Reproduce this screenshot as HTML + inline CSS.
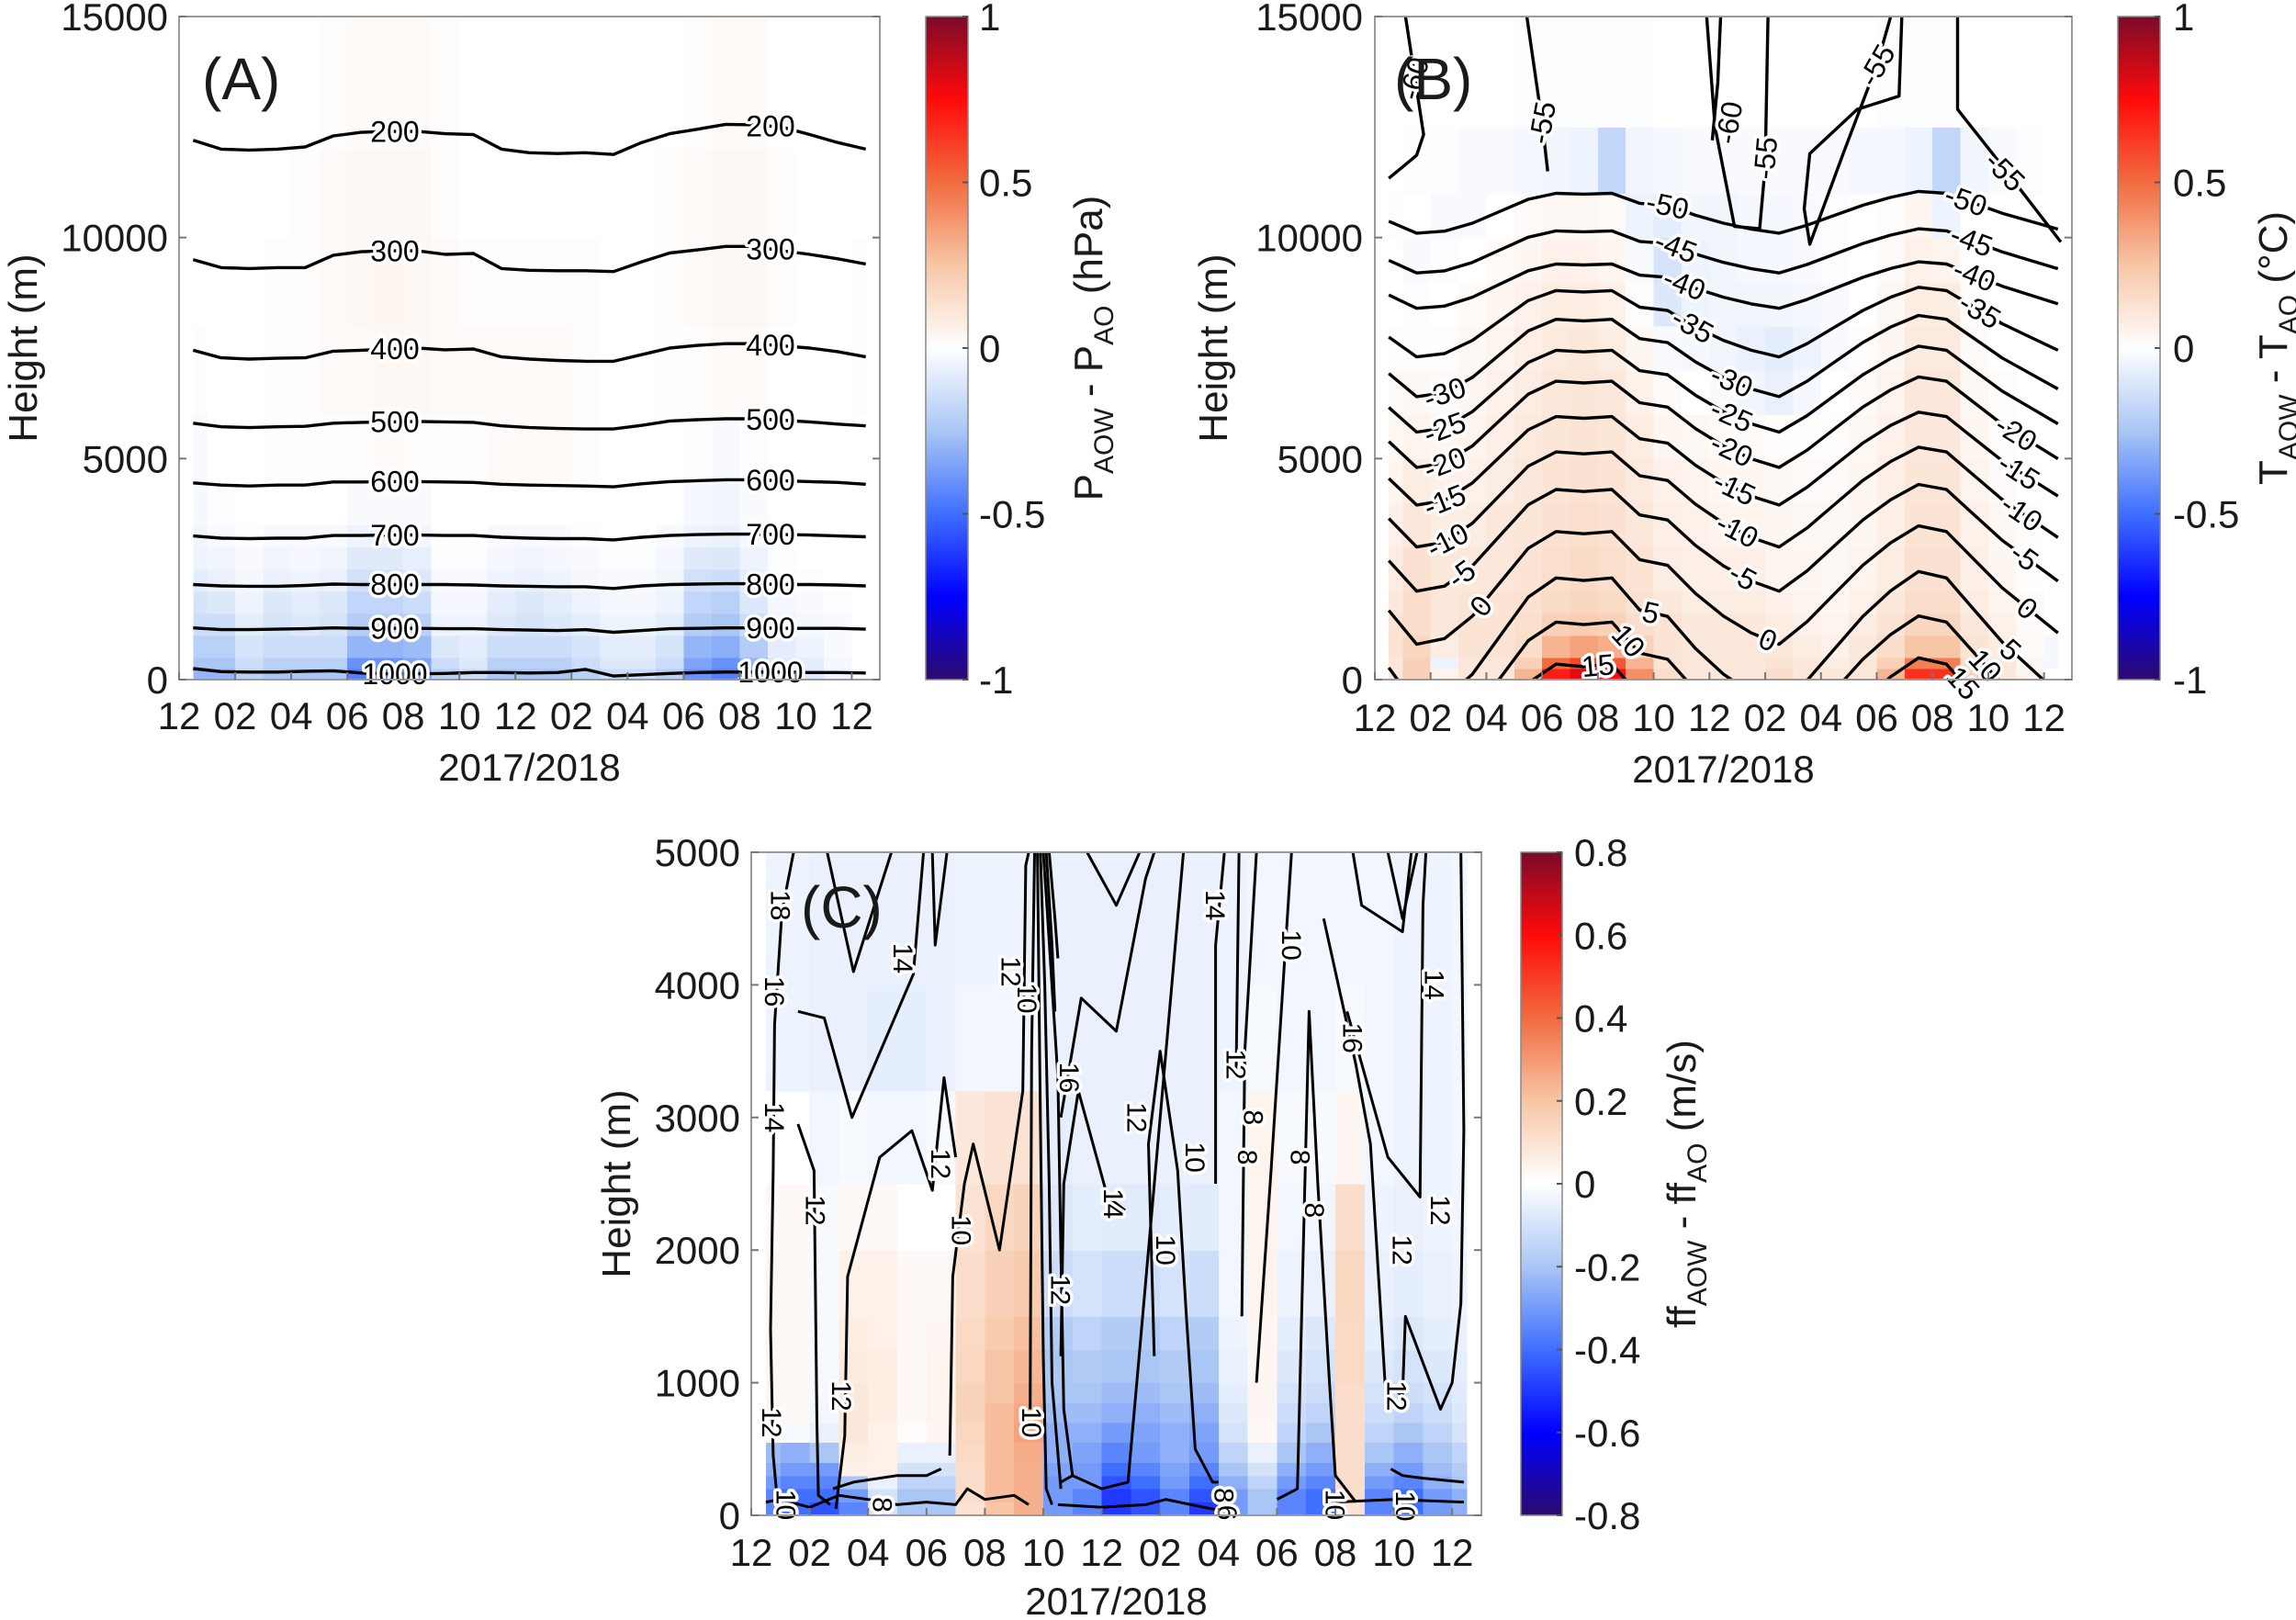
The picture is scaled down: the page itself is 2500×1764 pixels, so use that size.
<!DOCTYPE html>
<html><head><meta charset="utf-8"><title>AOW vs AO differences</title>
<style>
html,body{margin:0;padding:0;background:#fff;}
svg{display:block;font-family:"Liberation Sans",Arial,sans-serif;}
</style></head>
<body>
<svg id="fig" width="2500" height="1764" viewBox="0 0 2500 1764" xmlns="http://www.w3.org/2000/svg">
<defs>
<linearGradient id="cbgrad" x1="0" y1="1" x2="0" y2="0">
<stop offset="0" stop-color="#2c0b6e"/><stop offset="0.125" stop-color="#0000ff"/><stop offset="0.25" stop-color="#3f6fff"/><stop offset="0.375" stop-color="#a9c6f5"/><stop offset="0.5" stop-color="#ffffff"/><stop offset="0.625" stop-color="#f7c6a6"/><stop offset="0.75" stop-color="#f26b3f"/><stop offset="0.875" stop-color="#ff0a0a"/><stop offset="1" stop-color="#7b0a2a"/>
</linearGradient>
</defs>
</svg>
<script>
// ---------- shared tick labels ----------
const xTickMonths = [0,2,4,6,8,10,12,14,16,18,20,22,24];
const xTickLabels = ['12','02','04','06','08','10','12','02','04','06','08','10','12'];
const yTicksAB = [0,5000,10000,15000];
const yTicksC = [0,1000,2000,3000,4000,5000];
const cbTicksAB = [1,0.5,0,-0.5,-1];
const cbTickLabelsAB = ['1','0.5','0','-0.5','-1'];
const cbTicksC = [0.8,0.6,0.4,0.2,0,-0.2,-0.4,-0.6,-0.8];
const cbTickLabelsC = ['0.8','0.6','0.4','0.2','0','-0.2','-0.4','-0.6','-0.8'];

// ---------- Panel A data ----------
const aRowEdges = [0,250,500,1000,1500,2000,2500,3000,3500,4500,6000,8000,10000,12000,15000];
const aValues = [
[-0.3,-0.3,-0.2,-0.25,-0.25,-0.25,-0.45,-0.45,-0.4,-0.2,-0.15,-0.25,-0.25,-0.25,-0.2,-0.15,-0.15,-0.2,-0.4,-0.45,-0.35,-0.15,-0.1,-0.05,0],
[-0.25,-0.25,-0.15,-0.2,-0.2,-0.2,-0.4,-0.4,-0.35,-0.15,-0.1,-0.2,-0.2,-0.2,-0.15,-0.1,-0.1,-0.15,-0.35,-0.4,-0.3,-0.1,-0.08,-0.03,0],
[-0.2,-0.2,-0.12,-0.15,-0.15,-0.15,-0.3,-0.3,-0.28,-0.1,-0.08,-0.15,-0.15,-0.15,-0.12,-0.08,-0.08,-0.12,-0.3,-0.32,-0.22,-0.08,-0.05,-0.02,0],
[-0.15,-0.15,-0.08,-0.12,-0.1,-0.12,-0.22,-0.22,-0.2,-0.05,-0.05,-0.1,-0.12,-0.1,-0.08,-0.05,-0.05,-0.08,-0.22,-0.25,-0.15,-0.05,-0.03,-0.02,0],
[-0.12,-0.1,-0.05,-0.1,-0.08,-0.1,-0.18,-0.18,-0.15,-0.03,-0.03,-0.08,-0.1,-0.08,-0.05,-0.03,-0.03,-0.05,-0.18,-0.2,-0.1,-0.03,-0.02,-0.01,0],
[-0.08,-0.06,-0.03,-0.06,-0.05,-0.06,-0.13,-0.13,-0.1,-0.02,-0.02,-0.05,-0.06,-0.05,-0.03,-0.02,-0.02,-0.04,-0.13,-0.15,-0.07,-0.02,-0.01,0,0],
[-0.05,-0.04,-0.02,-0.04,-0.03,-0.04,-0.09,-0.09,-0.07,-0.01,-0.01,-0.03,-0.04,-0.03,-0.02,-0.01,-0.01,-0.03,-0.09,-0.1,-0.05,-0.01,0,0,0],
[-0.04,-0.02,-0.01,-0.02,-0.02,-0.02,-0.05,-0.05,-0.04,0,0,-0.02,-0.02,-0.02,-0.01,0,0,-0.02,-0.05,-0.06,-0.03,0,0,0,0],
[-0.03,-0.01,0,0,0,0,-0.02,-0.02,-0.02,0,0,0,0,0,0,0,0,0,-0.03,-0.04,-0.02,0,0,0,0],
[-0.02,0,0,0.01,0.01,0.01,0.01,0.02,0.01,0.01,0.01,0.02,0.02,0.02,0.01,0,0,0,-0.01,-0.02,-0.01,0,0,0,0],
[-0.01,0,0,0.01,0.01,0.02,0.02,0.03,0.03,0.02,0.02,0.02,0.02,0.02,0.01,0,0,0.01,0.01,0.02,0.02,0,0,0,-0.01],
[0,0,0,0.01,0.01,0.02,0.03,0.04,0.03,0.02,0.01,0.01,0.01,0.01,0.01,0,0,0.01,0.02,0.03,0.03,0.01,0,0,-0.01],
[0,0,0,0,0.01,0.02,0.03,0.03,0.03,0.01,0,0,0,0,0,0,0,0.01,0.02,0.03,0.03,0.01,0,0,0],
[0,0,0,0,0,0.01,0.02,0.02,0.02,0.01,0,0,0,0,0,0,0,0,0.01,0.02,0.02,0,0,0,0]
];
const aH200 = [12200,12000,11980,12000,12050,12300,12380,12400,12400,12350,12330,12000,11920,11900,11920,11880,12150,12350,12450,12560,12550,12500,12330,12150,12000];
const aH300 = [9500,9320,9300,9320,9320,9600,9680,9700,9700,9620,9640,9300,9260,9250,9250,9230,9450,9650,9720,9800,9800,9700,9620,9520,9400];
const aH400 = [7450,7280,7250,7270,7280,7430,7450,7480,7500,7460,7480,7300,7250,7220,7200,7200,7350,7500,7560,7600,7600,7550,7500,7420,7300];
const aH500 = [5800,5720,5700,5720,5730,5800,5820,5830,5840,5830,5820,5740,5700,5680,5670,5670,5750,5850,5880,5900,5900,5870,5830,5780,5740];
const aH600 = [4450,4400,4380,4400,4400,4470,4470,4480,4480,4470,4460,4420,4400,4390,4380,4360,4430,4480,4500,4520,4520,4500,4480,4460,4420];
const aH700 = [3250,3200,3190,3200,3200,3260,3260,3270,3270,3260,3260,3220,3200,3190,3190,3160,3220,3260,3280,3290,3290,3280,3270,3250,3230];
const aH800 = [2150,2120,2110,2110,2130,2160,2150,2150,2150,2150,2140,2120,2110,2100,2100,2060,2120,2150,2160,2170,2170,2150,2150,2140,2120];
const aH900 = [1170,1130,1130,1140,1150,1170,1160,1160,1160,1150,1150,1130,1120,1110,1130,1070,1110,1150,1160,1170,1170,1160,1160,1160,1140];
const aH1000 = [250,180,170,170,190,200,150,130,130,140,160,160,150,160,230,80,110,140,160,170,170,170,160,160,150];
const aLevels = ['200','300','400','500','600','700','800','900','1000'];

// ---------- Panel B data ----------
const bRowEdges = [0,250,500,1000,1500,2000,3000,4000,5000,6000,7000,8000,9000,10000,11000,12500,15000];
const bValues = [
[0.1,0.2,0.05,0.1,0.1,0.3,0.7,0.8,0.75,0.4,0.15,0.1,0.1,0.1,0.15,0.1,0.1,0.1,0.3,0.65,0.65,0.2,0.1,0.05,0],
[0.1,0.2,-0.05,0.1,0.1,0.2,0.5,0.6,0.55,0.3,0.12,0.1,0.1,0.1,0.12,0.1,0.08,0.1,0.2,0.45,0.45,0.15,0.1,0.03,-0.03],
[0.12,0.18,0.08,0.12,0.12,0.15,0.3,0.35,0.32,0.2,0.12,0.1,0.1,0.1,0.1,0.08,0.06,0.1,0.15,0.25,0.25,0.12,0.08,0.02,-0.03],
[0.12,0.15,0.1,0.12,0.12,0.14,0.2,0.22,0.2,0.15,0.12,0.1,0.1,0.1,0.08,0.06,0.05,0.08,0.12,0.18,0.18,0.1,0.06,0.02,0],
[0.1,0.15,0.1,0.12,0.12,0.13,0.16,0.18,0.16,0.13,0.1,0.08,0.08,0.08,0.06,0.05,0.04,0.06,0.1,0.15,0.15,0.08,0.05,0.02,0],
[0.08,0.13,0.1,0.1,0.1,0.12,0.14,0.16,0.14,0.12,0.08,0.07,0.07,0.07,0.05,0.04,0.03,0.05,0.08,0.13,0.13,0.07,0.04,0.01,0],
[0.06,0.1,0.08,0.08,0.1,0.11,0.13,0.14,0.13,0.1,0.07,0.06,0.05,0.05,0.04,0.03,0.03,0.04,0.07,0.12,0.12,0.06,0.03,0.01,0],
[0.04,0.08,0.06,0.06,0.08,0.1,0.12,0.13,0.12,0.09,0.06,0.05,0.04,0.04,0.03,0.02,0.02,0.04,0.07,0.11,0.11,0.05,0.02,0,0],
[0.03,0.05,0.04,0.05,0.07,0.09,0.11,0.12,0.11,0.08,0.04,0.03,0.02,0.02,0.01,0.01,0.01,0.03,0.06,0.1,0.1,0.04,0.01,0,0],
[0.02,0.03,0.02,0.04,0.06,0.08,0.1,0.11,0.1,0.06,0.02,0,-0.02,-0.04,-0.06,-0.03,0,0.02,0.05,0.1,0.1,0.03,0.01,0,0],
[0.01,0.01,0.01,0.03,0.05,0.07,0.09,0.1,0.08,0.04,-0.02,-0.03,-0.04,-0.06,-0.08,-0.05,-0.02,0.01,0.04,0.09,0.09,0.02,0,0,0],
[0,-0.01,0,0.02,0.04,0.06,0.08,0.08,0.06,0.01,-0.1,-0.05,-0.04,-0.04,-0.04,-0.03,-0.02,0,0.03,0.08,0.08,0.01,0,0,0],
[0,-0.02,-0.01,0,0.02,0.04,0.06,0.06,0.04,-0.02,-0.12,-0.05,-0.04,-0.03,-0.03,-0.02,-0.01,0,0.02,0.06,0.05,0,0,0,0],
[0.01,0,-0.02,-0.02,0,0.02,0.03,0.03,0.02,-0.05,-0.08,-0.04,-0.04,-0.03,-0.03,-0.02,-0.01,0,0.01,0.04,-0.05,0,0,0,0],
[0,-0.01,-0.01,-0.02,-0.02,-0.03,-0.04,-0.05,-0.18,-0.04,-0.03,-0.02,-0.02,-0.02,-0.02,-0.02,-0.02,-0.03,-0.03,-0.05,-0.18,-0.04,-0.02,-0.01,0],
[0,0,0,0,0,-0.01,-0.01,-0.01,-0.01,-0.01,0,0,0,0,0,0,0,0,-0.01,-0.01,-0.01,0,0,0,0]
];
const bHm50 = [10370,10100,10145,10325,10595,10865,11000,10982,11000,10775,10730,10505,10325,10190,10100,10280,10505,10730,10910,11045,11000,10775,10550,10370,10190];
const bHm45 = [9485,9200,9248,9438,9723,10008,10150,10131,10150,9913,9865,9628,9438,9295,9200,9390,9628,9865,10055,10198,10150,9913,9675,9485,9295];
const bHm40 = [8700,8400,8450,8650,8950,9250,9400,9380,9400,9150,9100,8850,8650,8500,8400,8600,8850,9100,9300,9450,9400,9150,8900,8700,8500];
const bHm35 = [7750,7300,7375,7675,8125,8575,8800,8770,8800,8425,8350,7975,7675,7450,7300,7600,7975,8350,8650,8875,8800,8425,8050,7750,7450];
const bHm30 = [6925,6400,6488,6838,7363,7888,8150,8115,8150,7713,7625,7188,6838,6575,6400,6750,7188,7625,7975,8238,8150,7713,7275,6925,6575];
const bHm25 = [6155,5600,5693,6063,6618,7173,7450,7413,7450,6988,6895,6433,6063,5785,5600,5970,6433,6895,7265,7543,7450,6988,6525,6155,5785];
const bHm20 = [5385,4800,4898,5288,5873,6458,6750,6711,6750,6263,6165,5678,5288,4995,4800,5190,5678,6165,6555,6848,6750,6263,5775,5385,4995];
const bHm15 = [4550,3950,4050,4450,5050,5650,5950,5910,5950,5450,5350,4850,4450,4150,3950,4350,4850,5350,5750,6050,5950,5450,4950,4550,4150];
const bHm10 = [3645,3000,3108,3538,4183,4828,5150,5107,5150,4613,4505,3968,3538,3215,3000,3430,3968,4505,4935,5258,5150,4613,4075,3645,3215];
const bHm5 = [2690,2000,2115,2575,3265,3955,4300,4254,4300,3725,3610,3035,2575,2230,2000,2460,3035,3610,4070,4415,4300,3725,3150,2690,2230];
const bH0 = [1565,800,928,1438,2203,2968,3350,3299,3350,2713,2585,1948,1438,1055,800,1310,1948,2585,3095,3478,3350,2713,2075,1565,1055];
const bH5 = [270,-600,-455,125,995,1865,2300,2242,2300,1575,1430,705,125,-310,-600,-20,705,1430,2010,2445,2300,1575,850,270,-310];
const bH10 = [-660,-1500,-1360,-800,40,880,1300,1244,1300,600,460,-240,-800,-1220,-1500,-940,-240,460,1020,1440,1300,600,-100,-660,-1220];
const bH15 = [-1645,-2500,-2357,-1787,-932,-77,350,293,350,-362,-505,-1217,-1787,-2215,-2500,-1930,-1217,-505,65,493,350,-362,-1075,-1645,-2215];
// upper free-form isotherms: [month, height] pairs
const bUpper1 = [[0.5,11340],[1.5,11860],[1.75,12330],[1.1,15000]];
const bUpper2 = [[5.45,15000],[6.0,12600],[6.2,11500]];
const bUpper3 = [[11.9,15000],[12.2,12500],[12.9,10250],[13.8,10200],[14.0,11600],[14.1,15000]];
const bUpper4 = [[18.9,15000],[18.8,13200],[17.3,12900],[15.6,11900],[15.4,10650],[15.6,9850],[16.8,11900],[18.0,13900],[18.5,15000]];
const bUpper5 = [[20.9,15000],[20.9,12900],[22.4,11700],[24.6,9900]];
const bUpper6 = [[12.4,15000],[12.3,13500],[12.1,12200]];

// ---------- Panel C data ----------
const cRowEdges = [0,100,200,300,400,550,700,850,1000,1250,1500,2000,2500,3200,4000,5000];
const cValues = [
[-0.35,-0.4,-0.45,-0.35,-0.1,-0.2,-0.2,0.1,0.2,0.25,-0.3,-0.35,-0.5,-0.45,-0.35,-0.5,-0.3,-0.2,-0.35,-0.4,0.1,-0.35,-0.4,-0.3,-0.25],
[-0.35,-0.4,-0.4,-0.3,-0.1,-0.2,-0.2,0.12,0.22,0.25,-0.3,-0.35,-0.5,-0.45,-0.35,-0.45,-0.3,-0.2,-0.35,-0.4,0.12,-0.35,-0.4,-0.3,-0.25],
[-0.3,-0.35,-0.35,-0.2,-0.05,-0.15,-0.15,0.12,0.22,0.25,-0.3,-0.3,-0.45,-0.4,-0.3,-0.4,-0.25,-0.15,-0.3,-0.35,0.12,-0.3,-0.35,-0.25,-0.2],
[-0.25,-0.3,-0.3,0.05,0.05,-0.1,-0.1,0.12,0.22,0.25,-0.28,-0.3,-0.4,-0.35,-0.28,-0.35,-0.2,-0.1,-0.25,-0.3,0.12,-0.25,-0.3,-0.22,-0.18],
[-0.22,-0.25,-0.2,0.06,0.05,-0.05,-0.05,0.13,0.22,0.26,-0.25,-0.28,-0.35,-0.3,-0.25,-0.3,-0.15,-0.05,-0.2,-0.25,0.12,-0.2,-0.25,-0.2,-0.15],
[0.02,-0.02,-0.05,0.08,0.05,0.01,0.03,0.14,0.22,0.28,-0.25,-0.25,-0.3,-0.28,-0.25,-0.28,-0.1,0.02,-0.15,-0.2,0.12,-0.15,-0.2,-0.15,-0.1],
[0.03,0.02,-0.03,0.08,0.06,0.02,0.04,0.15,0.22,0.27,-0.22,-0.22,-0.25,-0.25,-0.22,-0.25,-0.08,0.03,-0.12,-0.15,0.12,-0.12,-0.15,-0.12,-0.08],
[0.03,0.02,-0.02,0.08,0.06,0.02,0.04,0.15,0.2,0.25,-0.2,-0.2,-0.22,-0.22,-0.2,-0.22,-0.06,0.03,-0.1,-0.12,0.12,-0.1,-0.12,-0.1,-0.07],
[0.03,0.02,-0.02,0.07,0.06,0.02,0.04,0.14,0.2,0.23,-0.2,-0.18,-0.2,-0.2,-0.18,-0.2,-0.05,0.03,-0.08,-0.1,0.13,-0.08,-0.1,-0.08,-0.06],
[0.03,0.02,-0.02,0.06,0.05,0.02,0.03,0.13,0.18,0.21,-0.18,-0.15,-0.18,-0.18,-0.15,-0.18,-0.04,0.03,-0.06,-0.08,0.13,-0.06,-0.08,-0.06,-0.05],
[0.03,0.02,-0.02,0.05,0.05,0.02,0.02,0.12,0.16,0.18,-0.12,-0.1,-0.12,-0.12,-0.1,-0.12,-0.03,0.04,-0.04,-0.05,0.14,-0.05,-0.06,-0.05,-0.04],
[0.02,0.02,-0.02,0.02,0.02,0,0,0.1,0.14,0.15,-0.08,-0.06,-0.07,-0.07,-0.06,-0.07,-0.03,0.04,-0.03,-0.03,0.12,-0.04,-0.05,-0.04,-0.03],
[0,0,-0.03,-0.02,-0.03,-0.03,-0.02,0.08,0.1,0.1,-0.06,-0.05,-0.05,-0.05,-0.05,-0.05,-0.03,0.04,-0.02,-0.02,0.03,-0.03,-0.04,-0.04,-0.03],
[-0.04,-0.04,-0.05,-0.05,-0.06,-0.06,-0.05,-0.03,-0.03,-0.03,-0.05,-0.05,-0.05,-0.05,-0.05,-0.05,-0.04,-0.02,-0.03,-0.03,-0.02,-0.03,-0.04,-0.04,-0.03],
[-0.04,-0.04,-0.05,-0.05,-0.05,-0.05,-0.05,-0.04,-0.04,-0.04,-0.05,-0.05,-0.05,-0.05,-0.05,-0.05,-0.04,-0.03,-0.03,-0.03,-0.03,-0.03,-0.04,-0.04,-0.03]
];
// wind-speed isolines: [month, height] pairs
const cLine1 = [[1.45,5000],[1.05,4550],[0.8,3700],[0.75,2600],[0.66,1400],[0.75,450],[0.9,100]];
const cLine2 = [[1.6,3800],[2.5,3750],[3.45,3000],[5.55,4080],[5.9,5000]];
const cLine3 = [[1.6,2950],[2.15,2600],[2.25,700],[2.3,150],[2.7,80]];
const cLine4 = [[2.9,50],[3.2,600],[3.3,1800],[4.4,2700],[5.5,2900],[6.2,2450],[6.6,3300],[7.0,2700]];
const cLine5 = [[6.8,450],[6.9,1800],[7.3,2500],[7.6,2800],[8.5,2000],[9.3,3200],[9.4,4900],[9.5,5000]];
const cLine6 = [[9.55,800],[9.6,3500],[9.7,5000]];
const cLine7 = [[9.8,5000],[9.9,3000],[10.0,1200],[10.1,200],[10.3,80]];
const cLine8 = [[9.9,5000],[10.05,4000],[10.2,2500],[10.3,1000],[10.6,200]];
const cLine9 = [[10.0,5000],[10.15,4500],[10.5,3300],[10.6,2000],[10.7,800],[11.0,300]];
const cLine10 = [[10.1,5000],[10.3,4300],[10.4,3800]];
const cLine11 = [[10.2,5000],[10.4,4500],[10.5,4200]];
const cLine12 = [[10.6,3000],[11.3,3900],[12.5,3650],[13.5,4800],[13.8,5000]];
const cLine13 = [[10.6,1200],[10.7,2500],[11.2,3200],[12.2,2400],[12.8,2300]];
const cLine14 = [[10.6,250],[11.0,300],[12.0,200],[12.9,250],[13.2,1000],[14.2,3500],[14.8,5000]];
const cLine15 = [[13.8,1200],[13.6,2800],[14.0,3500],[14.6,2600],[14.9,1500],[15.2,500],[15.8,250],[16.0,250]];
const cLine16 = [[15.9,2500],[15.9,4300],[16.2,5000]];
const cLine17 = [[16.6,3300],[16.7,5000]];
const cLine18 = [[16.8,1500],[16.9,3500],[17.3,5000]];
const cLine19 = [[17.3,1000],[17.8,2600],[18.5,5000]];
const cLine20 = [[18.0,120],[18.7,200],[19.1,3800],[19.4,2500],[19.8,1000],[20.0,300],[20.7,100]];
const cLine21 = [[19.6,4500],[20.2,3900],[20.7,3400],[21.2,2800],[21.7,1000],[22.3,900]];
const cLine22 = [[20.6,5000],[20.9,4600],[22.3,4400],[22.5,4800],[22.6,5000]];
const cLine23 = [[20.4,3800],[21.8,2700],[22.9,2400],[23.0,4600],[23.1,5000]];
const cLine24 = [[22.3,900],[22.4,1500],[23.6,800],[24.0,1000],[24.3,1600],[24.4,2900],[24.3,5000]];
const cLine25 = [[0.5,100],[1.0,120],[2.0,60],[3.0,150],[4.0,120],[5.0,80],[6.0,100],[7.0,80],[7.4,200],[8.0,120],[9.0,150],[9.5,80]];
const cLine26 = [[2.8,200],[3.5,250],[5.0,300],[6.0,300],[6.5,350]];
const cLine27 = [[21.9,350],[22.3,300],[23.0,280],[24.4,250]];
const cLine28 = [[20.0,100],[22.0,120],[24.4,100]];
const cLine29 = [[10.5,80],[12.0,60],[13.5,80],[14.2,120],[15.5,60],[16.0,40]];
const cLine30 = [[2.6,5000],[3.5,4100],[4.8,5000]];
const cLine31 = [[6.2,5000],[6.3,4300],[6.7,5000]];
const cLine32 = [[11.5,5000],[12.5,4600],[13.3,5000]];
const cLine33 = [[21.8,5000],[22.3,4500],[22.8,5000]];
const cLabelText = ['18','16','14','12','14','12','12','12','10','10','10','12','16','14','12','10','10','12','14','12','8','8','10','8','8','10','16','12','14','12','12','10','8','10','8','6'];
const cLabelMonth = [1.0,0.8,0.8,0.7,5.2,2.2,3.1,6.5,7.2,9.6,9.45,8.9,10.9,12.4,10.6,14.2,15.2,13.2,15.9,16.6,17.2,17.0,18.5,18.8,19.3,22.4,20.6,23.6,23.4,22.3,22.1,1.2,4.5,20.0,16.2,16.3];
const cLabelHeight = [4600,3950,3000,700,4200,2300,900,2650,2150,700,3900,4100,3300,2350,1700,2000,2700,3000,4600,3400,3000,2700,4300,2700,2300,70,3600,2300,4000,2000,900,80,80,80,150,20];

// ---------- drawing ----------
const NS = 'http://www.w3.org/2000/svg';
const svg = document.getElementById('fig');
function el(tag, attrs, parent) {
  const e = document.createElementNS(NS, tag);
  for (const k in attrs) e.setAttribute(k, attrs[k]);
  (parent || svg).appendChild(e);
  return e;
}
const stops = [[-1,[44,11,110]],[-0.75,[0,0,255]],[-0.5,[63,111,255]],[-0.25,[169,198,245]],[0,[255,255,255]],[0.25,[247,198,166]],[0.5,[242,107,63]],[0.75,[255,10,10]],[1,[123,10,42]]];
function cmap(v, vmax) {
  let t = Math.max(-1, Math.min(1, v / vmax));
  for (let k = 0; k < stops.length - 1; k++) {
    const a = stops[k], b = stops[k + 1];
    if (t <= b[0]) {
      const f = (t - a[0]) / (b[0] - a[0]);
      const c = a[1].map((x, j) => Math.round(x + (b[1][j] - x) * f));
      return 'rgb(' + c.join(',') + ')';
    }
  }
  return 'rgb(123,10,42)';
}
function makeX(p) { return m => p.x0 + (m / 25) * (p.x1 - p.x0); }
function makeY(p) { return h => p.y1 - (h / p.ymax) * (p.y1 - p.y0); }

const PA = {id:'a', x0:195, x1:958, y0:18, y1:740, ymax:15000, vmax:1, cbx:1008, cbw:46, ylabX:183, htX:40, cbLabX:1066, cbTitleX:1200, tickY:794, yearY:850, tag:'(A)', tagX:220, tagY:108};
const PB = {id:'b', x0:1497, x1:2256, y0:18, y1:740, ymax:15000, vmax:1, cbx:2306, cbw:46, ylabX:1484, htX:1336, cbLabX:2366, cbTitleX:2490, tickY:796, yearY:852, tag:'(B)', tagX:1518, tagY:108};
const PC = {id:'c', x0:818, x1:1613, y0:928, y1:1650, ymax:5000, vmax:0.8, cbx:1656, cbw:45, ylabX:806, htX:686, cbLabX:1714, cbTitleX:1846, tickY:1705, yearY:1758, tag:'(C)', tagX:872, tagY:1010};

function text(x, y, s, size, anchor, parent, rot) {
  const t = el('text', {x:x, y:y, 'font-size':size, 'text-anchor':anchor||'middle', fill:'#1a1a1a'}, parent);
  if (rot) t.setAttribute('transform', 'rotate(' + rot + ' ' + x + ' ' + y + ')');
  t.textContent = s;
  return t;
}

function drawHeat(p, edges, vals) {
  const xs = makeX(p), ys = makeY(p);
  const g = el('g', {'shape-rendering':'crispEdges'});
  
  
  for (let r = 0; r < vals.length; r++) {
    for (let i = 0; i < vals[r].length; i++) {
      const xa = xs(Math.max(i, 0.5)), xb = xs(Math.min(i + 1, 24.5));
      const ya = ys(edges[r + 1]), yb = ys(edges[r]);
      const c = el('rect', {x:xa, y:ya, width:xb - xa + 0.6, height:yb - ya + 0.6, fill:cmap(vals[r][i], p.vmax)}, g);
      
      
    }
  }
}
function clipFor(p, sw) {
  const cp = el('clipPath', {id:'clip-' + p.id});
  el('rect', {x:p.x0, y:p.y0, width:p.x1 - p.x0, height:p.y1 - p.y0}, cp);
  const g = el('g', {'clip-path':'url(#clip-' + p.id + ')', fill:'none', stroke:'#000', 'stroke-width':sw, 'stroke-linejoin':'round'});
  return g;
}
function monthlyPath(p, arr, g, name) {
  const xs = makeX(p), ys = makeY(p);
  const d = arr.map((h, i) => (i ? 'L' : 'M') + xs(i + 0.5).toFixed(1) + ' ' + ys(h).toFixed(1)).join(' ');
  const path = el('path', {d:d}, g);
  
  
}
function pairPath(p, pts, g, name) {
  const xs = makeX(p), ys = makeY(p);
  const d = pts.map((q, i) => (i ? 'L' : 'M') + xs(q[0]).toFixed(1) + ' ' + ys(q[1]).toFixed(1)).join(' ');
  const path = el('path', {d:d}, g);
  
  
}
function interp(arr, f) {
  const i0 = Math.max(0, Math.min(arr.length - 1, Math.floor(f)));
  const i1 = Math.min(arr.length - 1, i0 + 1);
  return arr[i0] + (arr[i1] - arr[i0]) * (f - i0);
}
function contourLabel(x, y, s, rot, size) {
  const t = el('text', {x:x, y:y + size * 0.35, 'font-size':size, 'text-anchor':'middle', fill:'#000', stroke:'#fff', 'stroke-width':7, 'paint-order':'stroke', 'stroke-linejoin':'round'});
  if (rot) t.setAttribute('transform', 'rotate(' + rot.toFixed(1) + ' ' + x + ' ' + y + ')');
  t.textContent = s;
  
  
}
function labelOnMonthly(p, arr, f, s, size) {
  const xs = makeX(p), ys = makeY(p);
  const x = xs(f + 0.5), y = ys(interp(arr, f));
  const xa = xs(f + 0.2), ya = ys(interp(arr, f - 0.3)), xb = xs(f + 0.8), yb = ys(interp(arr, f + 0.3));
  let ang = Math.atan2(yb - ya, xb - xa) * 180 / Math.PI;
  contourLabel(x, y, s, ang, size);
}
function frame(p) {
  const xs = makeX(p), ys = makeY(p);
  const g = el('g', {});
  
  
  const b = el('rect', {x:p.x0, y:p.y0, width:p.x1 - p.x0, height:p.y1 - p.y0, fill:'none', stroke:'#9a9a9a', 'stroke-width':2}, g);
  
  
  const ticks = p.ymax === 5000 ? yTicksC : yTicksAB;
  ticks.forEach(v => {
    const y = ys(v);
    el('line', {x1:p.x0, x2:p.x0 + 8, y1:y, y2:y, stroke:'#777', 'stroke-width':2}, g);
    el('line', {x1:p.x1, x2:p.x1 - 8, y1:y, y2:y, stroke:'#777', 'stroke-width':2}, g);
    const t = text(p.ylabX, y + 15, String(v), 42, 'end', g);
    
    
  });
  xTickMonths.forEach((m, k) => {
    const x = xs(m);
    el('line', {x1:x, x2:x, y1:p.y1, y2:p.y1 - 8, stroke:'#777', 'stroke-width':2}, g);
    const t = text(x, p.tickY, xTickLabels[k], 42, 'middle', g);
    
    
  });
  const yr = text((p.x0 + p.x1) / 2, p.yearY, '2017/2018', 42, 'middle', g);
  
  
  const ht = text(p.htX, (p.y0 + p.y1) / 2, 'Height (m)', 44, 'middle', g, -90);
  
  
  const tg = text(p.tagX, p.tagY, p.tag, 64, 'start', g);
  
  
}
function colorbar(p, ticks, labels, v1, v2, unit) {
  const g = el('g', {});
  
  
  const r = el('rect', {x:p.cbx, y:p.y0, width:p.cbw, height:p.y1 - p.y0, fill:'url(#cbgrad)', stroke:'#888', 'stroke-width':1.5}, g);
  
  
  ticks.forEach((v, k) => {
    const y = p.y1 - (v + p.vmax) / (2 * p.vmax) * (p.y1 - p.y0);
    el('line', {x1:p.cbx + p.cbw - 6, x2:p.cbx + p.cbw, y1:y, y2:y, stroke:'#555', 'stroke-width':2}, g);
    const t = text(p.cbLabX, y + 15, labels[k], 42, 'start', g);
    
    
  });
  const cy = (p.y0 + p.y1) / 2, cx = p.cbTitleX;
  const t = el('text', {x:cx, y:cy, 'font-size':44, 'text-anchor':'middle', fill:'#1a1a1a', transform:'rotate(-90 ' + cx + ' ' + cy + ')'}, g);
  
  
  const parts = [[v1[0], 0], [v1[1], 1], [v2[0], 0], [v2[1], 1], [unit, 0]];
  let sub = false;
  parts.forEach(q => {
    const ts = document.createElementNS(NS, 'tspan');
    if (q[1]) { ts.setAttribute('font-size', 30); ts.setAttribute('dy', 12); sub = true; }
    else if (sub) { ts.setAttribute('dy', -12); sub = false; }
    ts.textContent = q[0];
    t.appendChild(ts);
  });
}

// Panel A
drawHeat(PA, aRowEdges, aValues);
const gA = clipFor(PA, 3.4);


const aSeries = [aH200, aH300, aH400, aH500, aH600, aH700, aH800, aH900, aH1000];
aSeries.forEach((arr, k) => monthlyPath(PA, arr, gA, 'isobar-' + aLevels[k]));
aSeries.forEach((arr, k) => {
  const xs = makeX(PA), ys = makeY(PA);
  [7.2, 20.6].forEach(f => contourLabel(xs(f + 0.5), ys(interp(arr, f)), aLevels[k], 0, 32));
});
frame(PA);
colorbar(PA, cbTicksAB, cbTickLabelsAB, ['P', 'AOW'], [' - P', 'AO'], ' (hPa)');

// Panel B
drawHeat(PB, bRowEdges, bValues);
const gB = clipFor(PB, 3.4);


const bSeries = [bHm50, bHm45, bHm40, bHm35, bHm30, bHm25, bHm20, bHm15, bHm10, bHm5, bH0, bH5, bH10, bH15];
const bLevels = ['-50','-45','-40','-35','-30','-25','-20','-15','-10','-5','0','5','10','15'];
bSeries.forEach((arr, k) => monthlyPath(PB, arr, gB, 'isotherm-' + bLevels[k]));
[bUpper1, bUpper2, bUpper3, bUpper4, bUpper5, bUpper6].forEach(pts => pairPath(PB, pts, gB, 'isotherm-upper'));
const bLabelLeft = [null, null, null, null, 2.0, 2.0, 2.0, 2.0, 2.1, 2.6, 3.3, null, null, null];
const bLabelMid = [10.0, 10.3, 10.6, 10.9, 12.3, 12.3, 12.3, 12.4, 12.5, 12.7, 13.6, 9.4, 8.6, 7.5];
const bLabelRight = [20.7, 20.9, 21.0, 21.2, null, null, 22.5, 22.6, 22.7, 22.8, 22.9, 22.3, 21.4, 20.6];
bSeries.forEach((arr, k) => {
  [bLabelLeft[k], bLabelMid[k], bLabelRight[k]].forEach(f => { if (f !== null) labelOnMonthly(PB, arr, f, bLevels[k], 32); });
});
{
  const xs = makeX(PB), ys = makeY(PB);
  contourLabel(xs(6.0), ys(12600), '-55', -80, 32);
  contourLabel(xs(12.7), ys(12600), '-60', -80, 32);
  contourLabel(xs(14.0), ys(11800), '-55', -85, 32);
  contourLabel(xs(18.0), ys(13900), '-55', -60, 32);
  contourLabel(xs(22.6), ys(11500), '-55', 45, 32);
  contourLabel(xs(1.4), ys(13600), '-60', -75, 32);
}
frame(PB);
colorbar(PB, cbTicksAB, cbTickLabelsAB, ['T', 'AOW'], [' - T', 'AO'], ' (\u00B0C)');

// Panel C
drawHeat(PC, cRowEdges, cValues);
const gC = clipFor(PC, 3.0);


[cLine1,cLine2,cLine3,cLine4,cLine5,cLine6,cLine7,cLine8,cLine9,cLine10,cLine11,cLine12,cLine13,cLine14,cLine15,cLine16,cLine17,cLine18,cLine19,cLine20,cLine21,cLine22,cLine23,cLine24,cLine25,cLine26,cLine27,cLine28,cLine29,cLine30,cLine31,cLine32,cLine33].forEach(pts => pairPath(PC, pts, gC, 'wind-isoline'));
{
  const xs = makeX(PC), ys = makeY(PC);
  cLabelText.forEach((s, k) => contourLabel(xs(cLabelMonth[k]), ys(cLabelHeight[k]), s, 90, 30));
}
frame(PC);
colorbar(PC, cbTicksC, cbTickLabelsC, ['ff', 'AOW'], [' - ff', 'AO'], ' (m/s)');
</script>
</body></html>
